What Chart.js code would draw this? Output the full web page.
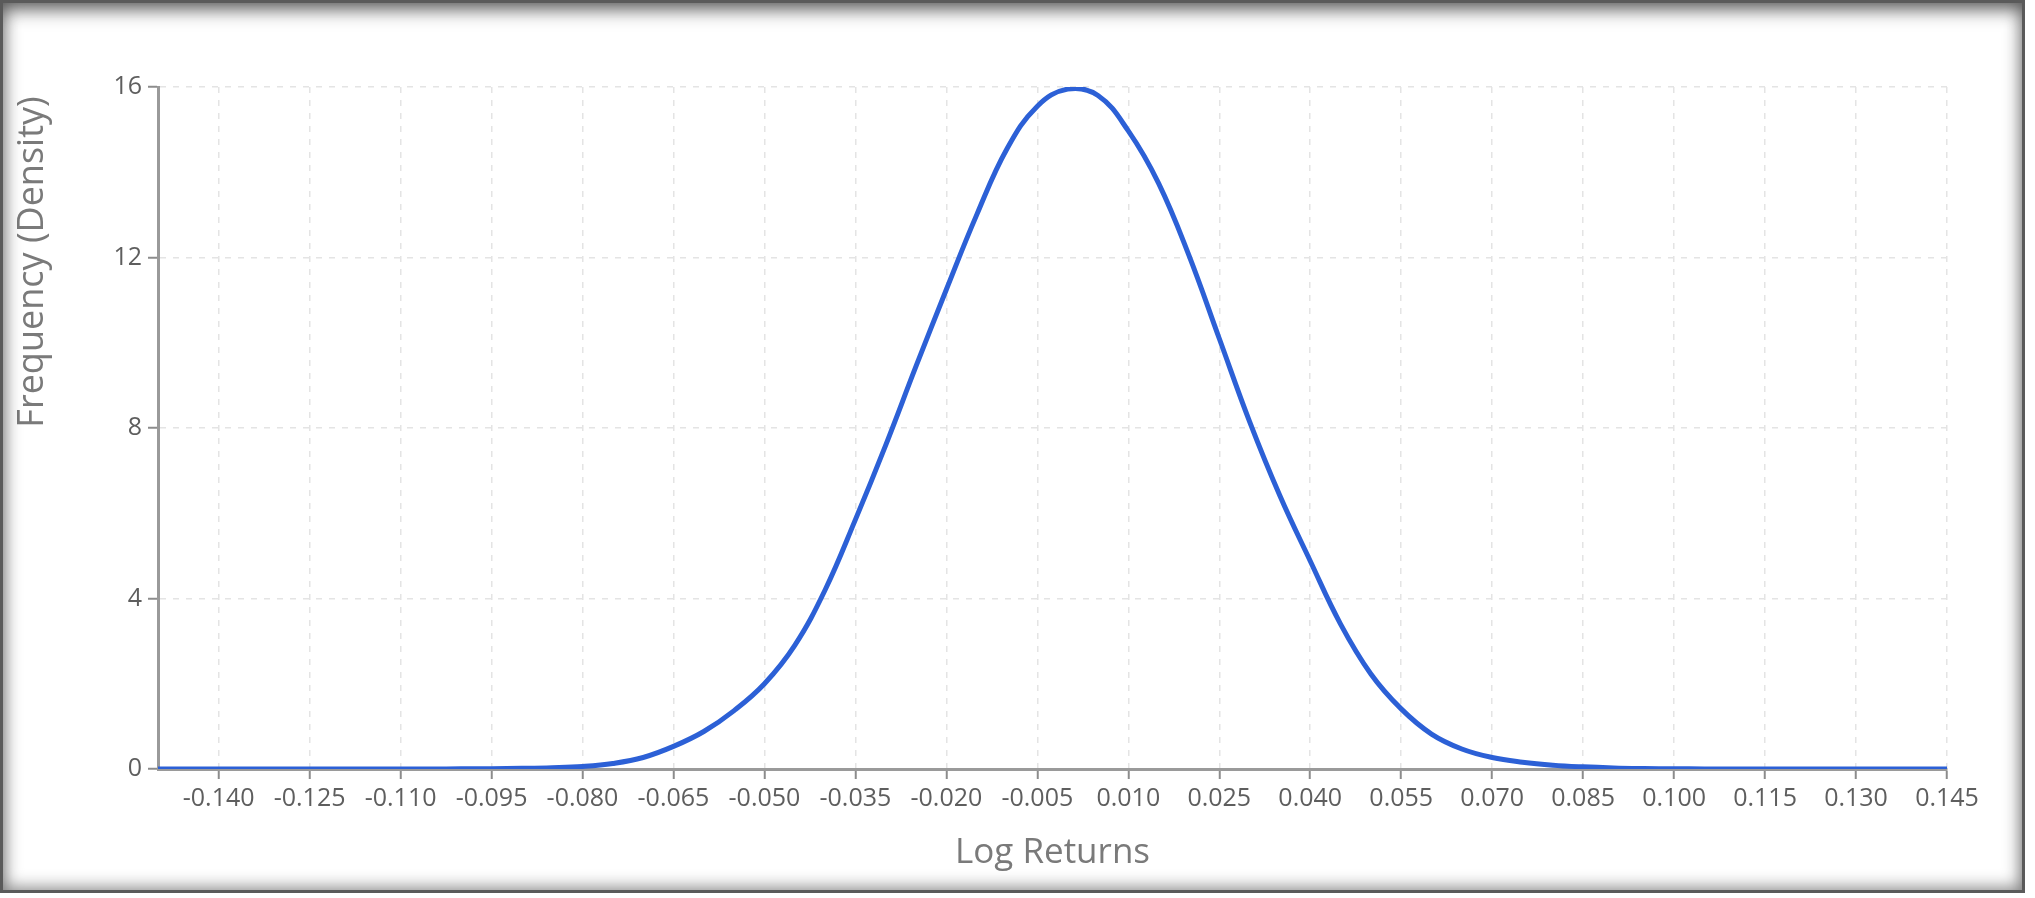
<!DOCTYPE html>
<html>
<head>
<meta charset="utf-8">
<title>Log Returns Density</title>
<script src="https://cdn.jsdelivr.net/npm/chart.js@4/dist/chart.umd.min.js"></script>
<style>
  html, body { margin: 0; padding: 0; background: #fff; overflow: hidden; }
  #wrap { position: absolute; left: 0; top: 0; width: 2035px; height: 898px; }
  #frame {
    position: absolute; left: 0; top: 0; width: 2025px; height: 893px;
    pointer-events: none;
    box-shadow: inset 0 0 0 3px #5a5a5a, inset 0 0 16px 6px rgba(0,0,0,0.45), inset 0 16px 20px -6px rgba(0,0,0,0.4);
  }
</style>
</head>
<body>
<div id="wrap"><canvas id="chart"></canvas></div>
<div id="frame"></div>
<script>
// log return values (x) and density (y)
const returns = [
  -0.150, -0.145, -0.140, -0.135, -0.130, -0.125, -0.120, -0.115, -0.110, -0.105,
  -0.100, -0.095, -0.090, -0.085, -0.080, -0.075, -0.070, -0.065, -0.060, -0.055,
  -0.050, -0.045, -0.040, -0.035, -0.030, -0.025, -0.020, -0.015, -0.010, -0.005,
   0.000,  0.005,  0.010,  0.015,  0.020,  0.025,  0.030,  0.035,  0.040,  0.045,
   0.050,  0.055,  0.060,  0.065,  0.070,  0.075,  0.080,  0.085,  0.090,  0.095,
   0.100,  0.105,  0.110,  0.115,  0.120,  0.125,  0.130,  0.135,  0.140,  0.145
];
const density = [
  0, 0, 0, 0, 0, 0, 0, 0, 0, 0.001,
  0.003, 0.007, 0.015, 0.03, 0.06, 0.13, 0.27, 0.53, 0.88, 1.37,
  2.0, 2.9, 4.2, 5.85, 7.6, 9.45, 11.25, 13.0, 14.55, 15.55,
  15.95, 15.80, 14.97, 13.74, 12.05, 10.1, 8.15, 6.41, 4.88, 3.40,
  2.23, 1.41, 0.82, 0.47, 0.27, 0.16, 0.09, 0.05, 0.025, 0.012,
  0.005, 0.002, 0, 0, 0, 0, 0, 0, 0, 0
];
const xTicks = [
  -0.140, -0.125, -0.110, -0.095, -0.080, -0.065, -0.050, -0.035, -0.020, -0.005,
   0.010,  0.025,  0.040,  0.055,  0.070,  0.085,  0.100,  0.115,  0.130,  0.145
];
const yTicks = [0, 4, 8, 12, 16];

const points = returns.map((x, i) => ({x: x, y: density[i]}));
const fontFamily = "'Segoe UI', 'Open Sans', 'Noto Sans', sans-serif";

new Chart(document.getElementById("chart").getContext("2d"), {
    type: "line",
    data: {
        datasets: [{
            label: "Density",
            data: points,
            borderColor: "#2c60d6",
            backgroundColor: "#2c60d6",
            borderWidth: 5,
            pointRadius: 0,
            fill: false,
            tension: 0.4
        }]
    },
    options: {
        responsive: true,
        maintainAspectRatio: false,
        animation: false,
        events: [],
        layout: { padding: { left: 7, top: 87, right: 88, bottom: 20 } },
        plugins: { legend: { display: false }, tooltip: { enabled: false } },
        scales: {
            x: {
                type: "linear",
                min: -0.15,
                max: 0.145,
                afterBuildTicks: function (scale) {
                    scale.ticks = xTicks.map(v => ({ value: v }));
                },
                afterFit: function (scale) { scale.height = 109; },
                ticks: {
                    autoSkip: false,
                    maxRotation: 0,
                    padding: 5,
                    color: "#5e5e5e",
                    font: { family: fontFamily, size: 25 },
                    callback: v => v.toFixed(3)
                },
                grid: {
                    color: "#e4e4e4",
                    lineWidth: 1.5,
                    tickColor: "#8c8c8c",
                    tickWidth: 2,
                    tickLength: 10,
                    tickBorderDash: []
                },
                border: { display: true, color: "#9a9a9a", width: 3, dash: [6, 7] },
                title: {
                    display: true,
                    text: "Log Returns",
                    color: "#7a7a7a",
                    font: { family: fontFamily, size: 35 },
                    padding: { top: 4, bottom: 4 }
                }
            },
            y: {
                min: 0,
                max: 16,
                afterBuildTicks: function (scale) {
                    scale.ticks = yTicks.map(v => ({ value: v }));
                },
                afterFit: function (scale) { scale.width = 151; },
                ticks: {
                    padding: 6,
                    color: "#5e5e5e",
                    font: { family: fontFamily, size: 25 }
                },
                grid: {
                    color: "#e4e4e4",
                    lineWidth: 1.5,
                    tickColor: "#8c8c8c",
                    tickWidth: 2,
                    tickLength: 10,
                    tickBorderDash: []
                },
                border: { display: true, color: "#9a9a9a", width: 3, dash: [6, 7] },
                title: {
                    display: true,
                    text: "Frequency (Density) ",
                    align: "end",
                    color: "#7a7a7a",
                    font: { family: fontFamily, size: 36 },
                    padding: { top: 4, bottom: 4 }
                }
            }
        }
    }
});
</script>
</body>
</html>
